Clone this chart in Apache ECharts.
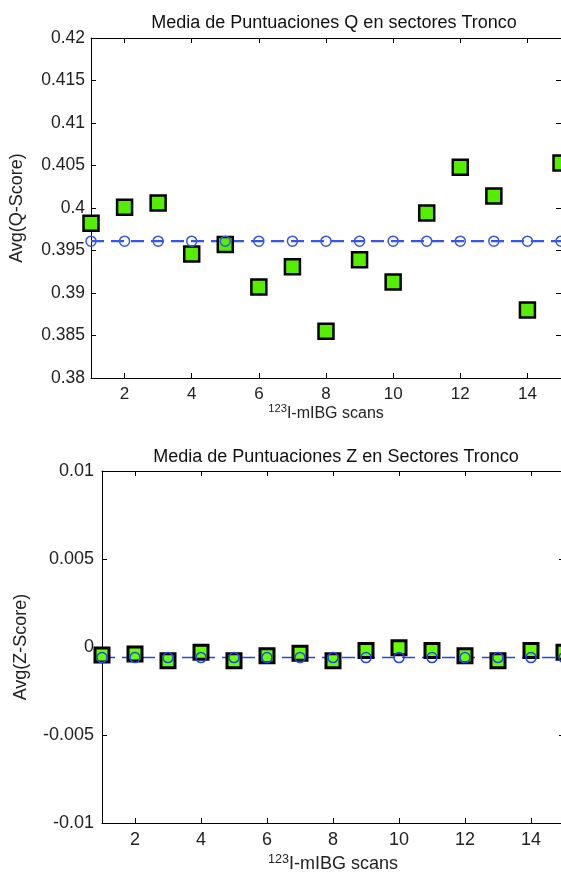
<!DOCTYPE html>
<html>
<head>
<meta charset="utf-8">
<script src="https://cdn.jsdelivr.net/npm/echarts@6/dist/echarts.min.js"></script>
<style>
    html, body { margin: 0; padding: 0; background: #fff; }
    #chart { width: 561px; height: 881px; }
</style>
</head>
<body>
<div id="chart"></div>
<script>
// data
const scans = [1, 2, 3, 4, 5, 6, 7, 8, 9, 10, 11, 12, 13, 14, 15];
const qScores = [0.3982, 0.4001, 0.4006, 0.3946, 0.3957, 0.3907, 0.3931, 0.3855,
                 0.3939, 0.3913, 0.3994, 0.4048, 0.4014, 0.3880, 0.4053];
const qMean = 0.3961;
const zScores = [-0.00045, -0.0004, -0.00078, -0.0003, -0.00078, -0.0005, -0.00036, -0.00078,
                 -0.0002, -0.00004, -0.0002, -0.0005, -0.00078, -0.0002, -0.0003];
const zMean = -0.0006;
const xTicks = [2, 4, 6, 8, 10, 12, 14];
const qTicks = [0.38, 0.385, 0.39, 0.395, 0.4, 0.405, 0.41, 0.415, 0.42];
const zTicks = [-0.01, -0.005, 0, 0.005, 0.01];

const FONT = 'Liberation Sans, Arial, sans-serif';

function xAxes(grid, nameGap, fs, nameFs) {
    return [{
        type: 'value', gridIndex: grid, min: 1, max: 15, position: 'bottom',
        name: '{sup|123}{base|I-mIBG scans}', nameLocation: 'middle', nameGap: nameGap,
        nameTextStyle: {
            rich: {
                sup: { fontSize: nameFs * 0.7, fontFamily: FONT, color: '#222', verticalAlign: 'top', lineHeight: 10 },
                base: { fontSize: nameFs, fontFamily: FONT, color: '#222', lineHeight: nameFs + 4 }
            }
        },
        axisLine: { show: true, onZero: false, lineStyle: { color: '#000', width: 1 } },
        axisTick: { inside: true, length: 5, customValues: xTicks, lineStyle: { color: '#000' } },
        axisLabel: { customValues: xTicks, margin: 8, fontSize: fs, fontFamily: FONT, color: '#222' },
        splitLine: { show: false }
    }, {
        type: 'value', gridIndex: grid, min: 1, max: 15, position: 'top',
        axisLine: { show: true, onZero: false, lineStyle: { color: '#000', width: 1 } },
        axisTick: { inside: true, length: 5, customValues: xTicks, lineStyle: { color: '#000' } },
        axisLabel: { show: false },
        splitLine: { show: false }
    }];
}

function yAxes(grid, ticks, name, nameGap, margin, fs) {
    return [{
        type: 'value', gridIndex: grid, min: ticks[0], max: ticks[ticks.length - 1], position: 'left',
        name: name, nameLocation: 'middle', nameGap: nameGap, nameRotate: 90,
        nameTextStyle: { fontSize: 18, fontFamily: FONT, color: '#222' },
        axisLine: { show: true, onZero: false, lineStyle: { color: '#000', width: 1 } },
        axisTick: { inside: true, length: 5, customValues: ticks, lineStyle: { color: '#000' } },
        axisLabel: { customValues: ticks, margin: margin, fontSize: fs, fontFamily: FONT, color: '#222',
            formatter: v => String(parseFloat(v.toFixed(4))) },
        splitLine: { show: false }
    }, {
        type: 'value', gridIndex: grid, min: ticks[0], max: ticks[ticks.length - 1], position: 'right',
        axisLine: { show: true, onZero: false, lineStyle: { color: '#000', width: 1 } },
        axisTick: { inside: true, length: 5, customValues: ticks, lineStyle: { color: '#000' } },
        axisLabel: { show: false },
        splitLine: { show: false }
    }];
}

function series(xi, yi, values, mean, green, lineColor, lineWidth, sq, sqBorder) {
    const meanData = scans.map(s => [s, mean]);
    return [{
        type: 'line', xAxisIndex: xi, yAxisIndex: yi, z: 2,
        data: meanData, showSymbol: false, silent: true,
        lineStyle: { color: lineColor, width: lineWidth, type: [13, 7] }
    }, {
        type: 'scatter', xAxisIndex: xi, yAxisIndex: yi, z: 3,
        data: scans.map((s, i) => [s, values[i]]),
        symbol: 'rect', symbolSize: sq,
        itemStyle: { color: green, borderColor: '#000', borderWidth: sqBorder, opacity: 1 }
    }, {
        type: 'scatter', xAxisIndex: xi, yAxisIndex: yi, z: 4,
        data: meanData, symbol: 'circle', symbolSize: 10,
        itemStyle: { color: 'transparent', borderColor: lineColor, borderWidth: 1.5, opacity: 1 }
    }];
}

const chart = echarts.init(document.getElementById('chart'));
chart.setOption({
    backgroundColor: '#fff',
    animation: false,
    title: [{
        text: 'Media de Puntuaciones Q en sectores Tronco',
        left: 329, top: 9, textAlign: 'center',
        textStyle: { fontSize: 18, fontWeight: 'normal', fontFamily: FONT, color: '#111' }
    }, {
        text: 'Media de Puntuaciones Z en Sectores Tronco',
        left: 331, top: 443, textAlign: 'center',
        textStyle: { fontSize: 18, fontWeight: 'normal', fontFamily: FONT, color: '#111' }
    }],
    grid: [
        { left: 91, top: 38, width: 470, height: 340, containLabel: false, outerBoundsMode: 'none' },
        { left: 102, top: 471, width: 462, height: 352, containLabel: false, outerBoundsMode: 'none' }
    ],
    xAxis: xAxes(0, 21, 17, 16).concat(xAxes(1, 30, 18, 18)),
    yAxis: yAxes(0, qTicks, 'Avg(Q-Score)', 65, 6, 17.5).concat(yAxes(1, zTicks, 'Avg(Z-Score)', 72, 8, 18)),
    series: series(0, 0, qScores, qMean, '#55ee00', '#3556e6', 2.2, 15, 2.5)
        .concat(series(2, 2, zScores, zMean, '#66ff00', '#1f45f5', 1.5, 14, 3))
});
</script>
</body>
</html>
